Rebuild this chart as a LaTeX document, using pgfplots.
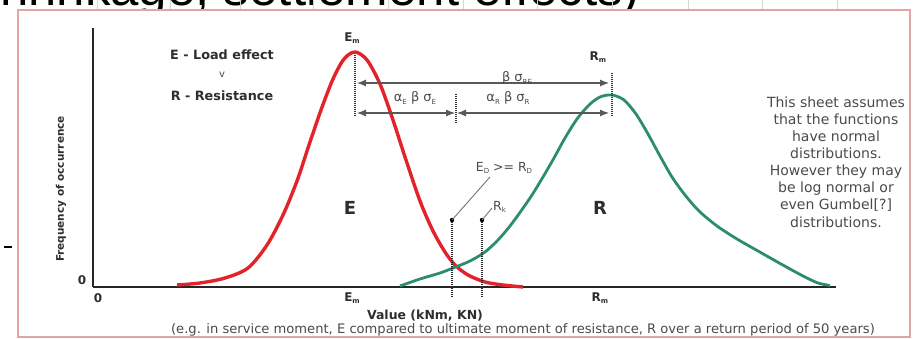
\documentclass[border=0pt]{standalone}
\usepackage{fontspec}
\setmainfont{DejaVu Sans}
\newfontfamily\titlefont{Liberation Sans}
\usepackage{pgfplots}
\pgfplotsset{compat=1.18}
\usetikzlibrary{arrows.meta}
\definecolor{loadred}{HTML}{E3232B}
\definecolor{resgreen}{HTML}{2C8D6E}
\definecolor{txt}{HTML}{4A4A4A}
\definecolor{txtb}{HTML}{2E2E2E}
\definecolor{frame}{HTML}{E2A4A8}
\definecolor{gridgray}{HTML}{D5D5D5}
\newcommand{\sub}[1]{\raisebox{-0.35ex}{\fontsize{7}{8}\selectfont #1}}

\begin{document}
\begin{tikzpicture}
\begin{scope}[x=1pt,y=-1pt]
  % slide title, partly covered by the chart panel
  \begin{scope}
    \clip (0,0) rectangle (916,10.5);
    \node[anchor=base east, inner sep=0pt, font=\titlefont\fontsize{51}{60}\selectfont]
      at (640,6) {(shrinkage, settlement effects)};
  \end{scope}
  \foreach \gx in {97,170,240,313,388,463,537,612,688,762,837}
    \draw[gridgray, line width=0.8pt] (\gx,0) -- (\gx,10);
  \draw[frame, line width=2pt] (18,10) rectangle (910,337);
  \draw[black, line width=2pt] (4,247) -- (12,247);
\end{scope}

\begin{axis}[
  at={(93pt,-287pt)}, anchor=origin,
  scale only axis, width=743pt, height=259pt,
  xmin=0, xmax=743, ymin=0, ymax=259,
  enlargelimits=false,
  axis lines=left,
  axis line style={-, line width=2.8pt, draw=black!85},
  xtick=\empty, ytick=\empty,
  clip=false,
]
% load effect E
\addplot[loadred, line width=3.4pt, smooth, tension=0.5] coordinates {
  (84,2) (107,4) (132,9) (155,19) (174,42) (190,72) (204,106) (216,142)
  (228,177) (240,208) (251,228) (262,235) (274,227) (287,203) (300,167)
  (312,130) (327,86) (340,56) (352,35) (362,22) (375,12) (392,5) (410,2) (430,0)
};
% resistance R
\addplot[resgreen, line width=2.8pt, smooth, tension=0.5] coordinates {
  (307,1) (327,8) (347,14) (360,19) (377,26) (392,35) (405,47) (417,61)
  (428,76) (439,92) (450,110) (461,129) (472,149) (484,168) (496,182)
  (507,190) (519,192) (531,187) (543,173) (555,153) (567,131) (579,110)
  (592,92) (606,76) (624,61) (644,48) (665,36) (688,23) (710,11) (725,4) (737,1.5)
};

% means and separation arrows
\draw[black!80, line width=1.1pt, dash pattern=on 1pt off 1pt] (262,232) -- (262,170);
\draw[black!80, line width=1.1pt, dash pattern=on 1pt off 1pt] (519,214) -- (519,170);
\draw[black!80, line width=1.1pt, dash pattern=on 1pt off 1pt] (363,193) -- (363,164);
\draw[black!65, line width=1.1pt, {Latex[length=9pt,width=7pt]}-{Latex[length=9pt,width=7pt]}] (264,204) -- (516,204);
\draw[black!65, line width=1.1pt, {Latex[length=9pt,width=7pt]}-{Latex[length=9pt,width=7pt]}] (264,174) -- (362,174);
\draw[black!65, line width=1.1pt, {Latex[length=9pt,width=7pt]}-{Latex[length=9pt,width=7pt]}] (364,174) -- (516,174);
\node[txt, font=\fontsize{13}{15}\selectfont, inner sep=0pt] at (424,209) {β σ\sub{RE}};
\node[txt, font=\fontsize{13}{15}\selectfont, inner sep=0pt] at (322,189) {α\sub{E} β σ\sub{E}};
\node[txt, font=\fontsize{13}{15}\selectfont, inner sep=0pt] at (415,189) {α\sub{R} β σ\sub{R}};

% design values
\draw[black!85, line width=1.3pt, dash pattern=on 1pt off 1pt] (359,67) -- (359,-10);
\draw[black!85, line width=1.3pt, dash pattern=on 1pt off 1pt] (389,67) -- (389,-10);
\fill[black] (359,67) circle (2.2pt);
\fill[black] (389,67) circle (2.2pt);
\draw[black!55, line width=0.9pt] (359,67) -- (397,110);
\draw[black!55, line width=0.9pt] (389,67) -- (399,79);
\node[txt, font=\fontsize{12.5}{14}\selectfont, inner sep=0pt] at (411,119) {E\sub{D} >= R\sub{D}};
\node[txt, font=\fontsize{12.5}{14}\selectfont, inner sep=0pt, anchor=west] at (400,80) {R\sub{k}};

% labels
\node[txtb, font=\bfseries\fontsize{12}{14}\selectfont] at (259,249) {E\sub{m}};
\node[txtb, font=\bfseries\fontsize{12}{14}\selectfont] at (505,230) {R\sub{m}};
\node[txtb, font=\bfseries\fontsize{12}{14}\selectfont] at (259,-11) {E\sub{m}};
\node[txtb, font=\bfseries\fontsize{12}{14}\selectfont] at (507,-11) {R\sub{m}};
\node[txtb, font=\bfseries\fontsize{18}{20}\selectfont] at (257,79) {E};
\node[txtb, font=\bfseries\fontsize{18}{20}\selectfont] at (507,79) {R};
\node[txtb, font=\bfseries\fontsize{12.8}{15}\selectfont] at (129,232) {E - Load effect};
\node[txt, font=\fontsize{10}{12}\selectfont] at (129,212) {v};
\node[txtb, font=\bfseries\fontsize{12.8}{15}\selectfont] at (129,191) {R - Resistance};
\node[txtb, font=\bfseries\fontsize{12}{14}\selectfont] at (-11,7) {0};
\node[txtb, font=\bfseries\fontsize{12}{14}\selectfont] at (5,-11) {0};
\node[txtb, font=\bfseries\fontsize{10.5}{12}\selectfont, rotate=90] at (-32,98) {Frequency of occurrence};
\node[txtb, font=\bfseries\fontsize{12.5}{14}\selectfont] at (332,-29) {Value (kNm, KN)};
\node[txt, font=\fontsize{13.1}{15}\selectfont] at (430,-43)
  {(e.g. in service moment, E compared to ultimate moment of resistance, R over a return period of 50 years)};
\node[txt, font=\fontsize{14}{17.1}\selectfont, align=center] at (743,125)
  {This sheet assumes\\that the functions\\have normal\\distributions.\\However they may\\be log normal or\\even Gumbel[?]\\distributions.};
\end{axis}

\pgfresetboundingbox
\path[use as bounding box] (0,0) rectangle (916pt,-339pt);
\end{tikzpicture}
\end{document}
